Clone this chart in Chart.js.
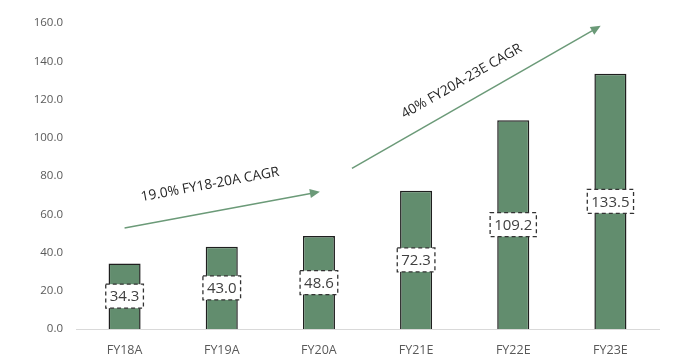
<!DOCTYPE html>
<html>
<head>
<meta charset="utf-8">
<script src="https://cdn.jsdelivr.net/npm/chart.js@4"></script>
<style>
  body { margin: 0; background: #fff; }
  #wrap { width: 696px; height: 356px; }
</style>
</head>
<body>
<div id="wrap"><canvas id="myChart"></canvas></div>
<script>
const categories = ['FY18A', 'FY19A', 'FY20A', 'FY21E', 'FY22E', 'FY23E'];
const values = [34.3, 43.0, 48.6, 72.3, 109.2, 133.5];
const yTicks = [0, 20, 40, 60, 80, 100, 120, 140, 160];

// arrows in data space: [x index, value]
const arrow1 = { from: [0, 52.8], to: [2.01, 71.8], text: '19.0% FY18-20A CAGR', at: [0.88, 75.5] };
const arrow2 = { from: [2.34, 84.0], to: [4.9, 158.5], text: '40% FY20A-23E CAGR', at: [3.47, 129.5] };

const barColor = '#628d6e';
const arrowColor = '#6b9a78';
const textColor = '#595959';

const overlay = {
  id: 'overlay',
  afterDatasetsDraw(chart) {
    const c = chart.ctx;
    const xs = chart.scales.x, ys = chart.scales.y;
    const meta = chart.getDatasetMeta(0);
    // value boxes
    c.save();
    c.font = '15px "Open Sans"';
    c.textAlign = 'center';
    c.textBaseline = 'middle';
    meta.data.forEach((bar, i) => {
      const txt = values[i].toFixed(1);
      const cy = ys.getPixelForValue(values[i] / 2);
      const w = c.measureText(txt).width + 8;
      const h = 24;
      c.fillStyle = '#fff';
      c.fillRect(bar.x - w / 2, cy - h / 2, w, h);
      c.setLineDash([4, 3]);
      c.strokeStyle = '#333';
      c.lineWidth = 1.3;
      c.strokeRect(bar.x - w / 2, cy - h / 2, w, h);
      c.setLineDash([]);
      c.fillStyle = '#404040';
      c.fillText(txt, bar.x, cy + 1);
    });
    // arrows
    [arrow1, arrow2].forEach(a => {
      const x1 = xs.getPixelForValue(a.from[0]), y1 = ys.getPixelForValue(a.from[1]);
      const x2 = xs.getPixelForValue(a.to[0]), y2 = ys.getPixelForValue(a.to[1]);
      const ang = Math.atan2(y2 - y1, x2 - x1);
      c.strokeStyle = arrowColor;
      c.fillStyle = arrowColor;
      c.lineWidth = 1.5;
      c.beginPath();
      c.moveTo(x1, y1);
      c.lineTo(x2 - 8 * Math.cos(ang), y2 - 8 * Math.sin(ang));
      c.stroke();
      c.beginPath();
      c.moveTo(x2, y2);
      c.lineTo(x2 - 10 * Math.cos(ang) + 4.5 * Math.sin(ang), y2 - 10 * Math.sin(ang) - 4.5 * Math.cos(ang));
      c.lineTo(x2 - 10 * Math.cos(ang) - 4.5 * Math.sin(ang), y2 - 10 * Math.sin(ang) + 4.5 * Math.cos(ang));
      c.closePath();
      c.fill();
      const tx = xs.getPixelForValue(a.at[0]), ty = ys.getPixelForValue(a.at[1]);
      c.save();
      c.translate(tx, ty);
      c.rotate(ang);
      c.font = '13.7px "Open Sans"';
      c.fillStyle = '#262626';
      c.textAlign = 'center';
      c.textBaseline = 'middle';
      c.fillText(a.text, 0, 0);
      c.restore();
    });
    c.restore();
  }
};

new Chart(document.getElementById('myChart'), {
  type: 'bar',
  data: {
    labels: categories,
    datasets: [{
      data: values,
      backgroundColor: barColor,
      borderColor: '#1f1f1f',
      borderWidth: 1.5,
      barPercentage: 0.33,
      categoryPercentage: 1
    }]
  },
  options: {
    responsive: true,
    maintainAspectRatio: false,
    animation: false,
    layout: { padding: { top: 23, right: 37, left: 0, bottom: 0 } },
    plugins: { legend: { display: false }, tooltip: { enabled: false } },
    scales: {
      x: {
        grid: { display: false, drawTicks: false },
        border: { display: true, color: '#d9d9d9', width: 1 },
        ticks: { color: textColor, font: { family: 'Open Sans', size: 12.5 }, padding: 14 },
        afterFit: s => { s.height = 27; }
      },
      y: {
        min: 0,
        max: 160,
        grid: { display: false, drawTicks: false },
        border: { display: false },
        afterBuildTicks: s => { s.ticks = yTicks.map(v => ({ value: v })); },
        ticks: {
          color: textColor,
          font: { family: 'Open Sans', size: 11.5 },
          padding: 13,
          callback: v => Number(v).toFixed(1)
        },
        afterFit: s => { s.width = 76; }
      }
    }
  },
  plugins: [overlay]
});
</script>
</body>
</html>
